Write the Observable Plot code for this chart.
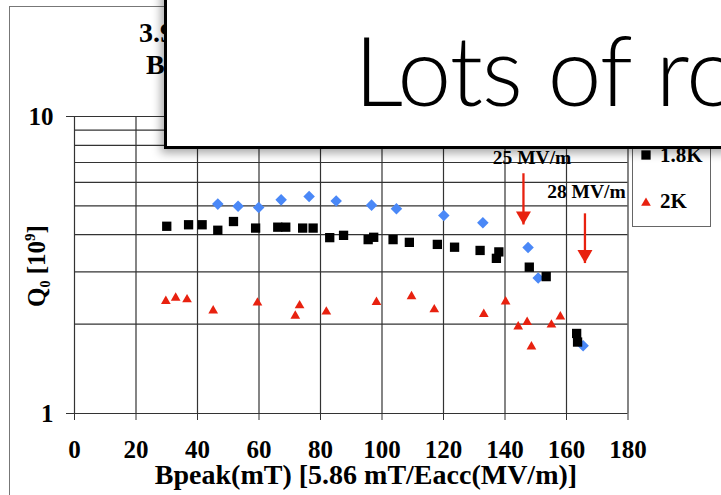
<!DOCTYPE html>
<html>
<head>
<meta charset="utf-8">
<script src="https://cdn.jsdelivr.net/npm/d3@7"></script>
<script src="https://cdn.jsdelivr.net/npm/@observablehq/plot@0.6"></script>
<style>
  html, body { margin: 0; padding: 0; background: #fff; overflow: hidden; }
  #chart { position: relative; width: 721px; height: 495px; }
</style>
</head>
<body>
<div id="chart"></div>
<script>
// Axis ticks and grid
const xTicks = [0, 20, 40, 60, 80, 100, 120, 140, 160, 180];
const yGrid = [1, 2, 3, 4, 5, 6, 7, 8, 9, 10];
const yTicks = [1, 10];

// Q0 (10^9) versus peak magnetic field Bpeak (mT)
const blueB = [46.6, 53.2, 59.9, 67.2, 76.3, 85.1, 96.6, 104.7, 120.1, 132.8, 147.5, 150.8, 165.4];
const blueQ = [5.07, 4.99, 4.94, 5.24, 5.38, 5.19, 5.03, 4.89, 4.64, 4.39, 3.62, 2.86, 1.69];

const k18B = [30.0, 37.1, 41.5, 46.6, 51.7, 58.9, 66.1, 68.7, 74.2, 77.6, 83.0, 87.5, 95.5, 97.3,
              103.6, 108.9, 118.0, 123.6, 131.9, 138.0, 137.2, 147.9, 153.4, 163.3, 163.6];
const k18Q = [4.27, 4.32, 4.32, 4.14, 4.43, 4.21, 4.24, 4.24, 4.21, 4.21, 3.91, 3.98, 3.85, 3.92,
              3.85, 3.77, 3.71, 3.63, 3.54, 3.50, 3.33, 3.11, 2.89, 1.86, 1.74];

const k2B = [29.7, 32.9, 36.6, 45.1, 59.5, 71.8, 73.2, 81.9, 98.2, 109.6, 117.0, 133.1, 140.2,
             144.3, 147.2, 148.6, 155.1, 158.0];
const k2Q = [2.39, 2.45, 2.42, 2.22, 2.36, 2.13, 2.31, 2.20, 2.37, 2.48, 2.24, 2.16, 2.38,
             1.96, 2.03, 1.68, 1.99, 2.12];

// Gradient limits marked with arrows
const limitLabels = ["25 MV/m", "28 MV/m"];
const limitB = [146, 166];
const limitTop = [6.44, 4.72];
const limitTip = [4.33, 3.21];
const limitLabelB = [148.8, 166.5];
const limitLabelQ = [7.28, 5.59];

const legendLabels = ["1.8K", "2K"];

const blue = blueB.map((b, i) => ({b, q: blueQ[i]}));
const k18 = k18B.map((b, i) => ({b, q: k18Q[i]}));
const k2 = k2B.map((b, i) => ({b, q: k2Q[i]}));
const limits = limitB.map((b, i) => ({b, top: limitTop[i], tip: limitTip[i],
  label: limitLabels[i], lb: limitLabelB[i], lq: limitLabelQ[i]}));

const serif = "'Liberation Serif', 'Times New Roman', serif";
const gridColor = "#333";
const red = "#e8210f";
const blueColor = "#4a88f7";

const chart = Plot.plot({
  width: 721,
  height: 495,
  marginLeft: 74,
  marginRight: 93.5,
  marginTop: 116,
  marginBottom: 82,
  style: {fontFamily: serif, background: "transparent", overflow: "visible"},
  x: {domain: [0, 180]},
  y: {type: "log", domain: [1, 10]},
  marks: [
    Plot.ruleX(xTicks, {y1: 1, y2: 10, stroke: gridColor, strokeWidth: 1.2}),
    Plot.ruleY(yGrid, {x1: 0, x2: 180, stroke: gridColor, strokeWidth: 1.2}),
    Plot.axisX({ticks: xTicks, tickSize: 7, tickPadding: 20, fontSize: 25, fontWeight: "bold",
      stroke: gridColor, fill: "#000", label: null, tickFormat: d => String(d)}),
    Plot.axisY({ticks: yTicks, tickSize: 8, tickPadding: 13, fontSize: 25, fontWeight: "bold",
      stroke: gridColor, fill: "#000", label: null, tickFormat: d => String(d)}),
    Plot.dot(blue, {x: "b", y: "q", symbol: "diamond2", r: 5.2, fill: blueColor}),
    Plot.dot(k18, {x: "b", y: "q", symbol: "square", r: 5.25, fill: "#000"}),
    Plot.dot(k2, {x: "b", y: "q", symbol: "triangle", r: 3.6, fill: red}),
    Plot.link(limits, {x1: "b", x2: "b", y1: "top", y2: "tip", stroke: red, strokeWidth: 2.3}),
    Plot.dot(limits, {x: "b", y: "tip", symbol: "triangle", r: 5.57, rotate: 180, dy: -8.66, fill: red}),
    Plot.text(limits, {x: "lb", y: "lq", text: "label", fontSize: 19.5, fontWeight: "bold", fill: "#000"})
  ]
});

document.getElementById("chart").appendChild(chart);

const svg = d3.select(chart);

// page frame behind everything
svg.insert("rect", ":first-child")
  .attr("x", 9.5).attr("y", 6.5).attr("width", 800).attr("height", 600)
  .attr("fill", "none").attr("stroke", "#777").attr("stroke-width", 1);

// title
const title = svg.append("g").attr("font-family", serif).attr("font-weight", "bold")
  .attr("font-size", 28).attr("fill", "#000").attr("text-anchor", "start");
title.append("text").attr("x", 139).attr("y", 42).text("3.9 GHz Cavity Test");
title.append("text").attr("x", 146).attr("y", 74).text("Bpeak");

// axis titles
svg.append("text")
  .attr("x", 366).attr("y", 484)
  .attr("text-anchor", "middle")
  .attr("font-family", serif).attr("font-weight", "bold").attr("font-size", 28)
  .text("Bpeak(mT) [5.86 mT/Eacc(MV/m)]");

const ylab = svg.append("text")
  .attr("transform", "translate(45,266) rotate(-90)")
  .attr("text-anchor", "middle")
  .attr("font-family", serif).attr("font-weight", "bold").attr("font-size", 25);
ylab.append("tspan").text("Q");
ylab.append("tspan").attr("font-size", 14).attr("dy", 5).text("0");
ylab.append("tspan").attr("dy", -5).text(" [10");
ylab.append("tspan").attr("font-size", 15).attr("dy", -10).text("9");
ylab.append("tspan").attr("dy", 10).text("]");

// legend
const legend = svg.append("g").attr("text-anchor", "start");
legend.append("rect").attr("x", 632.5).attr("y", 90.5).attr("width", 78).attr("height", 136)
  .attr("fill", "#fff").attr("stroke", "#666").attr("stroke-width", 1);
legend.append("path").attr("transform", "translate(646,155)")
  .attr("d", d3.symbol(d3.symbolSquare, 5.25 * 5.25 * Math.PI)()).attr("fill", "#000");
legend.append("path").attr("transform", "translate(646,203)")
  .attr("d", d3.symbol(d3.symbolTriangle, 3.6 * 3.6 * Math.PI)()).attr("fill", red);
legend.selectAll("text.lg").data(legendLabels).join("text")
  .attr("x", 660).attr("y", (d, i) => 162 + i * 46)
  .attr("font-family", serif).attr("font-weight", "bold").attr("font-size", 21)
  .text(d => d);

// callout box laid over the top of the chart
const defs = svg.append("defs");
const f = defs.append("filter").attr("id", "boxShadow")
  .attr("x", "-20%").attr("y", "-20%").attr("width", "140%").attr("height", "140%");
f.append("feDropShadow").attr("dx", -3).attr("dy", 4).attr("stdDeviation", 5)
  .attr("flood-color", "#000").attr("flood-opacity", 0.35);
const callout = svg.append("g").attr("text-anchor", "start");
callout.append("rect").attr("x", 165.5).attr("y", -20).attr("width", 700).attr("height", 167.5)
  .attr("fill", "#fff").attr("stroke", "#000").attr("stroke-width", 3)
  .attr("filter", "url(#boxShadow)");
callout.append("text").attr("x", 354).attr("y", 106)
  .attr("font-family", "Lato, 'Open Sans', sans-serif").attr("font-weight", 300)
  .attr("font-size", 97).attr("letter-spacing", -1).attr("fill", "#000")
  .text("Lots of room");
</script>
</body>
</html>
